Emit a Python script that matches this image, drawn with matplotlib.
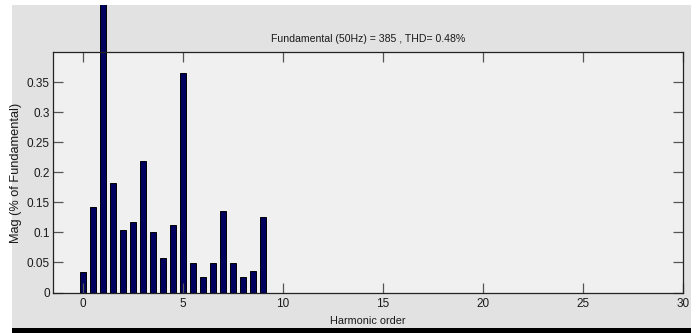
import matplotlib
matplotlib.use('Agg')
import matplotlib.pyplot as plt
from matplotlib.patches import Rectangle
from matplotlib.transforms import Bbox, TransformedBbox
from matplotlib.ticker import FuncFormatter

# harmonic spectrum, % of fundamental (fundamental itself = 100)
orders = [0, 0.5, 1, 1.5, 2, 2.5, 3, 3.5, 4, 4.5, 5, 5.5, 6, 6.5, 7, 7.5, 8, 8.5, 9]
mags = [0.034, 0.142, 100.0, 0.182, 0.104, 0.118, 0.219, 0.100, 0.057, 0.113,
        0.366, 0.049, 0.026, 0.049, 0.135, 0.049, 0.026, 0.036, 0.126]
xticks = [0, 5, 10, 15, 20, 25, 30]
yticks = [0, 0.05, 0.1, 0.15, 0.2, 0.25, 0.3, 0.35]
title = "Fundamental (50Hz) = 385 , THD= 0.48%"

plt.rcParams['font.family'] = ['Liberation Sans', 'DejaVu Sans']

W, H = 697, 333
fig = plt.figure(figsize=(W / 100, H / 100), dpi=100)
fig.patch.set_facecolor('white')

# grey window area + black strip at the bottom (screenshot look)
gx0, gx1 = 11.7 / W, 691 / W
gy0, gy1 = 5 / H, (H - 5) / H
win = Rectangle((gx0, gy0), gx1 - gx0, gy1 - gy0, transform=fig.transFigure,
                facecolor='#e2e2e2', edgecolor='none', zorder=-10)
fig.patches.append(win)
fig.patches.append(Rectangle((gx0, 0), gx1 - gx0, gy0, transform=fig.transFigure,
                             facecolor='black', edgecolor='none', zorder=-10))

ax = fig.add_axes([52.7 / W, 1 - 292.5 / H, (683 - 52.7) / W, (292.5 - 52.3) / H])
ax.set_facecolor('#f0f0f0')

bars = ax.bar(orders, mags, width=0.3, color='#00005e', edgecolor='black', linewidth=0.7)
clip = TransformedBbox(Bbox.from_extents(gx0, gy0, gx1, gy1), fig.transFigure)
for b in bars:
    b.set_clip_on(True)
    b.set_clip_box(clip)

ax.set_xlim(-1.5, 30)
ax.set_ylim(0, 0.4)
ax.set_xticks(xticks)
ax.set_yticks(yticks)
ax.yaxis.set_major_formatter(FuncFormatter(lambda v, p: '%g' % v))

ax.tick_params(direction='in', length=7, width=0.9, color='#555555',
               top=True, right=True, labelsize=8.5, labelcolor='#1a1a1a')
ax.tick_params(axis='x', pad=4)
ax.tick_params(axis='y', pad=2)

for s in ax.spines.values():
    s.set_color('#222222')
    s.set_linewidth(0.9)

ax.set_title(title, fontsize=7.6, color='#1a1a1a', pad=7.5)
ax.set_xlabel('Harmonic order', fontsize=7.8, color='#1a1a1a')
ax.set_ylabel('Mag (% of Fundamental)', fontsize=9.2, color='#1a1a1a')
ax.xaxis.set_label_coords(0.5, -0.098)
ax.yaxis.set_label_coords(-0.049, 0.5)

fig.savefig('out.png', dpi=100, facecolor=fig.get_facecolor())
